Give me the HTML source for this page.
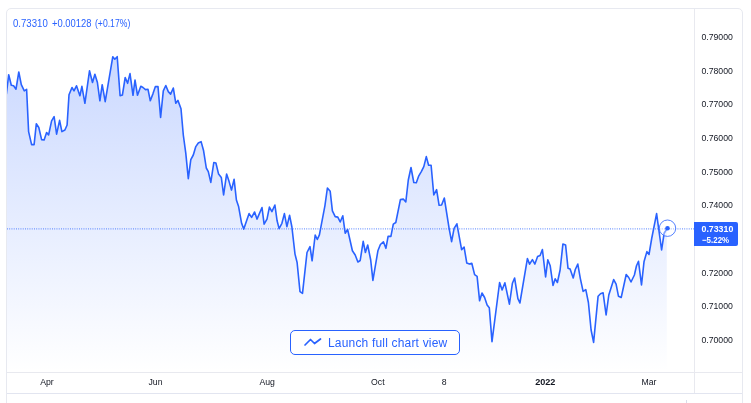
<!DOCTYPE html>
<html><head><meta charset="utf-8"><title>Chart</title>
<style>
html,body{margin:0;padding:0;background:#fff;}
body{width:751px;height:403px;overflow:hidden;position:relative;font-family:"Liberation Sans",sans-serif;}
.frame{position:absolute;left:6px;top:8px;width:735px;height:420px;border:1px solid #e7e9f0;border-radius:5px;box-sizing:content-box;}
svg{position:absolute;left:0;top:0;}
.t{position:absolute;white-space:nowrap;color:#131722;font-size:8.7px;line-height:12px;}
.y{left:701.4px;}
.x{transform:translateX(-50%);top:376.1px;}
.hdr{left:12.5px;top:18px;color:#2962ff;font-size:10.2px;transform:scaleX(0.944);transform-origin:0 0;line-height:12px;word-spacing:-1.2px;}
.plabel{position:absolute;left:694px;top:222.4px;width:44.2px;height:23.2px;background:#2962ff;color:#fff;font-weight:bold;font-size:8.8px;line-height:11px;padding:1.4px 0 0 7.5px;border-radius:0 2px 2px 0;box-sizing:border-box;white-space:nowrap;}
.btn{position:absolute;left:290px;top:330px;width:170px;height:25px;box-sizing:border-box;border:1px solid #2962ff;border-radius:5px;background:#fff;color:#2962ff;font-size:12px;letter-spacing:0.18px;line-height:24px;padding-left:37px;white-space:nowrap;}
</style></head><body>
<div class="frame"></div>
<svg width="751" height="403" viewBox="0 0 751 403">
<defs>
<linearGradient id="g" gradientUnits="userSpaceOnUse" x1="0" y1="9" x2="0" y2="372">
<stop offset="0" stop-color="#2962ff" stop-opacity="0.28"/>
<stop offset="1" stop-color="#2962ff" stop-opacity="0"/>
</linearGradient>
<clipPath id="c"><rect x="7" y="9" width="687" height="363"/></clipPath>
</defs>
<g clip-path="url(#c)">
<polygon points="6.4,372 6.4,94 8.7,74.7 11.3,85.3 13.6,85.8 16,89.2 18.8,72 21.3,84.7 24.3,90.8 26.6,89.3 28.6,131.6 31.6,144.6 34.1,144.6 36.3,123.8 38.8,127.5 41.6,139.6 44.1,140 46.6,132.5 48.6,135 51.6,120.8 54.1,116.6 56.6,134.1 59.6,120.3 61.9,131.6 64.9,130 67.1,125 69,94.7 72,87.5 74,90.8 76.5,85.8 79.9,95.8 81.9,86.3 84.9,103.3 89.5,70.8 92.5,82.5 94.9,74.2 97.4,82.5 99.9,100.8 102.2,84.7 105.2,101.7 112.8,56.7 114.8,59.2 117.2,56.7 120.1,95.8 122.4,95 125.2,77.5 127.6,83.3 130,73.6 133,95.3 135,80 137.5,95.3 140.8,86.3 143,87.5 145.5,89.6 148,89.3 150.3,100.8 153,93.6 155.4,86.6 158,86.6 160.6,117.5 163.3,90.8 165.8,85.5 168.3,91.6 170.6,94.1 173.3,88 175.8,103.3 177.9,100.4 181,108.8 183.3,135 185.8,153.3 188.3,178.6 190.8,159.6 193.3,155 195.8,146.6 198.3,143 201.1,141.6 203.6,150.8 206.3,168 208.3,171.6 210.8,182.4 213.8,162.5 215.9,163 218.6,174.1 221.3,177.4 223.6,195 226.6,174.1 229.1,181.6 231.5,190.1 234.1,179.3 236.4,200 238.6,206.6 241.6,223.3 243.8,229.1 246.6,220.8 249.1,213.6 251.6,217.4 254.6,212 257,219.1 262,207.5 264.1,224.1 267,219.1 269.4,207.1 271.9,211.6 274.9,205 277.1,220.8 279.1,228.6 281.9,223.3 284.4,213.6 286.9,226.6 289.6,215.3 291.9,227 295,254.1 297.1,262.5 300,291.6 302.5,293.3 307,252.5 310,246.6 312.1,260.8 315.2,235 317.3,239.5 319.4,234.8 324.9,205.8 327.4,188 330.2,191.3 332.4,210.8 335.2,216.6 337.8,217.1 340.2,222 342.8,215.8 345.2,233.2 347.6,229.5 352.4,250.8 355.2,255 357.9,262 360.2,260.5 363.2,241.3 365.4,252.5 367.7,245 370.7,260 372.9,280.4 377.9,250.8 380.4,244.5 383.4,241.8 385.9,248.3 388.1,236.3 390.9,236.4 393.3,224.1 395.8,222.5 400.4,199.6 403.3,199.1 405.8,202 408.3,180 411,167.5 413.8,182.5 416.3,182.8 418.8,175.8 421.3,171.6 423.8,166.6 426.3,156.6 428.6,165.3 431.1,165.3 433.8,195 436.6,189.6 439.1,205.3 441.6,205 444.3,198 449.1,228.3 451.6,241.6 454.1,228.3 456.9,223.8 461.6,249.6 464.1,247.1 466.8,263.1 469.4,264.1 471.8,263.3 474.6,274.6 477.1,276.3 479.6,300.8 482,293 484.6,297.5 487.1,305 489.3,307.8 492,341.6 499.6,282.5 502.1,290 504.9,282.8 509.4,304.1 512.4,283.3 514.6,278 517.9,298.6 519.9,303 527.4,258.6 529.6,264.1 532.4,259.6 534.9,264.1 537.6,256.6 540.1,255.5 542.4,249.5 545.6,277 547.8,259.8 550.2,265.8 553,285.5 555.2,278.8 557.4,282.5 560.1,270 562.9,244.1 565.6,245 568,268.2 570.1,269.1 573.2,278 575.3,269.5 577.8,264.1 580.3,278.3 583.1,291.4 585.8,289.6 588.4,302.5 591.1,330 593.6,342.4 598.1,296.2 600.5,293.8 603.1,292.8 606.1,315 608.8,295 613.7,279.6 616.1,284.1 618.5,296.3 621.2,297.5 626.2,274.5 628.7,277.5 631,282 634.4,275 636.5,265.8 638.5,261.3 641.5,285 644,261.8 646.9,251.6 649,254.5 651.7,238.5 656.6,213.6 661.6,250 664.1,233.3 667.3,228.2 666.8,228.2 666.8,372" fill="url(#g)"/>
<line x1="7" y1="228.9" x2="694" y2="228.9" stroke="#2962ff" stroke-width="1.1" stroke-dasharray="0.9 1.35" opacity="0.7"/>
<polyline points="6.4,94 8.7,74.7 11.3,85.3 13.6,85.8 16,89.2 18.8,72 21.3,84.7 24.3,90.8 26.6,89.3 28.6,131.6 31.6,144.6 34.1,144.6 36.3,123.8 38.8,127.5 41.6,139.6 44.1,140 46.6,132.5 48.6,135 51.6,120.8 54.1,116.6 56.6,134.1 59.6,120.3 61.9,131.6 64.9,130 67.1,125 69,94.7 72,87.5 74,90.8 76.5,85.8 79.9,95.8 81.9,86.3 84.9,103.3 89.5,70.8 92.5,82.5 94.9,74.2 97.4,82.5 99.9,100.8 102.2,84.7 105.2,101.7 112.8,56.7 114.8,59.2 117.2,56.7 120.1,95.8 122.4,95 125.2,77.5 127.6,83.3 130,73.6 133,95.3 135,80 137.5,95.3 140.8,86.3 143,87.5 145.5,89.6 148,89.3 150.3,100.8 153,93.6 155.4,86.6 158,86.6 160.6,117.5 163.3,90.8 165.8,85.5 168.3,91.6 170.6,94.1 173.3,88 175.8,103.3 177.9,100.4 181,108.8 183.3,135 185.8,153.3 188.3,178.6 190.8,159.6 193.3,155 195.8,146.6 198.3,143 201.1,141.6 203.6,150.8 206.3,168 208.3,171.6 210.8,182.4 213.8,162.5 215.9,163 218.6,174.1 221.3,177.4 223.6,195 226.6,174.1 229.1,181.6 231.5,190.1 234.1,179.3 236.4,200 238.6,206.6 241.6,223.3 243.8,229.1 246.6,220.8 249.1,213.6 251.6,217.4 254.6,212 257,219.1 262,207.5 264.1,224.1 267,219.1 269.4,207.1 271.9,211.6 274.9,205 277.1,220.8 279.1,228.6 281.9,223.3 284.4,213.6 286.9,226.6 289.6,215.3 291.9,227 295,254.1 297.1,262.5 300,291.6 302.5,293.3 307,252.5 310,246.6 312.1,260.8 315.2,235 317.3,239.5 319.4,234.8 324.9,205.8 327.4,188 330.2,191.3 332.4,210.8 335.2,216.6 337.8,217.1 340.2,222 342.8,215.8 345.2,233.2 347.6,229.5 352.4,250.8 355.2,255 357.9,262 360.2,260.5 363.2,241.3 365.4,252.5 367.7,245 370.7,260 372.9,280.4 377.9,250.8 380.4,244.5 383.4,241.8 385.9,248.3 388.1,236.3 390.9,236.4 393.3,224.1 395.8,222.5 400.4,199.6 403.3,199.1 405.8,202 408.3,180 411,167.5 413.8,182.5 416.3,182.8 418.8,175.8 421.3,171.6 423.8,166.6 426.3,156.6 428.6,165.3 431.1,165.3 433.8,195 436.6,189.6 439.1,205.3 441.6,205 444.3,198 449.1,228.3 451.6,241.6 454.1,228.3 456.9,223.8 461.6,249.6 464.1,247.1 466.8,263.1 469.4,264.1 471.8,263.3 474.6,274.6 477.1,276.3 479.6,300.8 482,293 484.6,297.5 487.1,305 489.3,307.8 492,341.6 499.6,282.5 502.1,290 504.9,282.8 509.4,304.1 512.4,283.3 514.6,278 517.9,298.6 519.9,303 527.4,258.6 529.6,264.1 532.4,259.6 534.9,264.1 537.6,256.6 540.1,255.5 542.4,249.5 545.6,277 547.8,259.8 550.2,265.8 553,285.5 555.2,278.8 557.4,282.5 560.1,270 562.9,244.1 565.6,245 568,268.2 570.1,269.1 573.2,278 575.3,269.5 577.8,264.1 580.3,278.3 583.1,291.4 585.8,289.6 588.4,302.5 591.1,330 593.6,342.4 598.1,296.2 600.5,293.8 603.1,292.8 606.1,315 608.8,295 613.7,279.6 616.1,284.1 618.5,296.3 621.2,297.5 626.2,274.5 628.7,277.5 631,282 634.4,275 636.5,265.8 638.5,261.3 641.5,285 644,261.8 646.9,251.6 649,254.5 651.7,238.5 656.6,213.6 661.6,250 664.1,233.3 667.3,228.2" fill="none" stroke="#2962ff" stroke-width="1.6" stroke-linejoin="round" stroke-linecap="round"/>
<circle cx="667.5" cy="228.2" r="8.2" fill="#fff" fill-opacity="0.4" stroke="#2962ff" stroke-width="1" stroke-opacity="0.8"/>
<circle cx="667.5" cy="228.2" r="2.3" fill="#2962ff"/>
</g>
<line x1="694.5" y1="9" x2="694.5" y2="393" stroke="#e8e9ef" stroke-width="1"/>
<line x1="7" y1="372.5" x2="742" y2="372.5" stroke="#e8e9ef" stroke-width="1"/>
<line x1="7" y1="393.5" x2="742" y2="393.5" stroke="#e2e5f0" stroke-width="1"/>
<line x1="686.5" y1="400" x2="686.5" y2="403" stroke="#d9dcea" stroke-width="1"/>
</svg>
<div class="t hdr">0.73310</div>
<div class="t hdr" style="left:52px;transform:scaleX(0.922);transform-origin:0 0">+0.00128</div>
<div class="t hdr" style="left:95px;transform:scaleX(0.847);transform-origin:0 0">(+0.17%)</div>
<div class="t y" style="top:30.8px">0.79000</div>
<div class="t y" style="top:64.5px">0.78000</div>
<div class="t y" style="top:98.2px">0.77000</div>
<div class="t y" style="top:131.9px">0.76000</div>
<div class="t y" style="top:165.6px">0.75000</div>
<div class="t y" style="top:199.3px">0.74000</div>
<div class="t y" style="top:266.6px">0.72000</div>
<div class="t y" style="top:300.3px">0.71000</div>
<div class="t y" style="top:334.0px">0.70000</div>
<div class="plabel"><div>0.73310</div><div style="transform:scaleX(0.9);transform-origin:0 0">−5.22%</div></div>
<div class="t x" style="left:47px">Apr</div>
<div class="t x" style="left:155.5px">Jun</div>
<div class="t x" style="left:267.2px">Aug</div>
<div class="t x" style="left:377.8px">Oct</div>
<div class="t x" style="left:444.2px">8</div>
<div class="t x" style="left:545.3px;font-weight:bold;font-size:9.1px">2022</div>
<div class="t x" style="left:649px">Mar</div>
<div class="btn">Launch full chart view</div>
<svg width="751" height="403" viewBox="0 0 751 403" style="pointer-events:none"><polyline points="305,345 310.5,339.5 314.5,343.5 320.5,339" fill="none" stroke="#2962ff" stroke-width="1.7" stroke-linejoin="round" stroke-linecap="round"/></svg>
</body></html>
